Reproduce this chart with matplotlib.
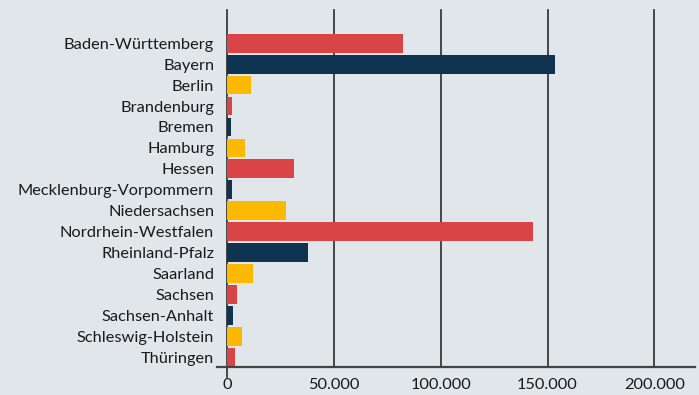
import numpy as np
import matplotlib.pyplot as plt

# %% DATA
laender = [
    'Baden-Württemberg', 'Bayern', 'Berlin', 'Brandenburg', 'Bremen',
    'Hamburg', 'Hessen', 'Mecklenburg-Vorpommern', 'Niedersachsen',
    'Nordrhein-Westfalen', 'Rheinland-Pfalz', 'Saarland', 'Sachsen',
    'Sachsen-Anhalt', 'Schleswig-Holstein', 'Thüringen',
]
werte = [82400, 153500, 11200, 2300, 1800, 8400, 31400, 2300,
         27600, 143200, 37900, 12200, 4700, 2800, 7000, 3700]
ticks = [0, 50000, 100000, 150000, 200000]
tick_labels = ['0', '50.000', '100.000', '150.000', '200.000']

# %% STYLE
bg = '#e1e6eb'
palette = ['#d94447', '#0f3452', '#fdb900']
plt.rcParams['font.family'] = ['Lato', 'DejaVu Sans']

# %% PLOT
fig = plt.figure(figsize=(6.99, 3.95), dpi=100, facecolor=bg)
ax = fig.add_axes([217 / 699, 1 - 367 / 395, (695 - 217) / 699, (367 - 10) / 395])
ax.set_facecolor(bg)

y = np.arange(len(laender))
colors = [palette[i % 3] for i in range(len(laender))]
ax.barh(y, werte, height=0.9, color=colors, zorder=3)

for t in ticks:
    ax.axvline(t, color='#2b2b2b', lw=1.2, zorder=2,
               ymin=-0.028 if t == 0 else 0, clip_on=False)

ax.set_xlim(-4700, 219000)
ax.set_ylim(15.45, -1.58)
ax.set_yticks(y)
ax.set_yticklabels(laender, fontsize=11.8, color='#1a1a1a')
ax.set_xticks(ticks)
ax.set_xticklabels(tick_labels, fontsize=11.8, color='#1a1a1a')
ax.tick_params(axis='y', length=0, pad=2)
ax.tick_params(axis='x', length=0, pad=8)

for s in ['top', 'right', 'left']:
    ax.spines[s].set_visible(False)
ax.spines['bottom'].set_color('#444444')
ax.spines['bottom'].set_linewidth(1.6)
ax.spines['bottom'].set_zorder(4)

fig.savefig('out.png', dpi=100, facecolor=bg)
